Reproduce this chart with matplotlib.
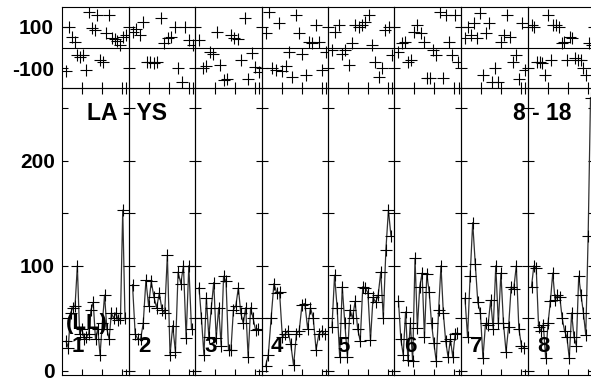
import numpy as np
import matplotlib
matplotlib.use("Agg")
import matplotlib.pyplot as plt

plt.rcParams['font.family'] = ['Liberation Sans', 'DejaVu Sans']
plt.rcParams['font.weight'] = 'bold'

# ---- data ----
panel_labels = ["1", "2", "3", "4", "5", "6", "7", "8"]

amp1 = [28, 22, 55, 60, 62, 100, 35, 40, 30, 32, 35, 58, 65, 30, 40, 15, 45, 72, 40, 30, 55, 50, 55, 48, 50, 153, 50]
amp2 = [82, 35, 30, 30, 45, 86, 62, 85, 70, 60, 74, 58, 55, 110, 15, 43, 18, 94, 83, 100, 31, 100, 40]
amp3 = [79, 50, 15, 69, 32, 60, 84, 31, 60, 24, 90, 85, 20, 20, 58, 62, 79, 55, 45, 60, 13, 60, 50, 39, 40]
amp4 = [4, 15, 50, 83, 74, 75, 32, 35, 38, 25, 5, 35, 38, 63, 64, 40, 60, 50, 20, 35, 38, 35]
amp5 = [42, 91, 60, 13, 80, 45, 13, 58, 50, 66, 40, 28, 80, 79, 74, 29, 70, 65, 72, 94, 50, 115, 153, 128]
amp6 = [66, 30, 15, 56, 10, 45, 9, 107, 41, 80, 93, 32, 92, 75, 45, 26, 9, 58, 100, 55, 28, 13, 30, 13, 35, 36]
amp7 = [69, 32, 90, 141, 102, 65, 55, 12, 45, 44, 67, 40, 100, 45, 93, 45, 18, 42, 80, 78, 100, 40, 24, 22]
amp8 = [80, 100, 98, 42, 38, 44, 12, 45, 66, 93, 67, 72, 70, 50, 38, 32, 12, 55, 32, 24, 90, 72, 55, 34, 128, 260]

ph1 = [-111, 100, 52, 28, -36, -44, -36, -108, 172, 92, 85, 156, -60, -70, 68, 155, 44, 40, 30, 12, 50, 60]
ph2 = [76, 90, 60, 124, -68, -70, -76, -70, 140, 20, 44, 50, 100, -100, -164, 100, 36, 12]
ph3 = [36, -100, -90, -20, -30, 76, -84, -156, -150, 60, 44, 40, -60, 140, -150, -28, -95, -120]
ph4 = [68, 172, -100, -110, 116, -115, -90, -20, -140, 156, 70, -30, -132, 28, 20, 108, 28, -110, -20]
ph5 = [-12, 76, 108, -30, -12, -84, 20, 108, 100, 108, 124, 156, 10, -68, -140, -100, 84, 100, -36]
ph6 = [-20, 20, 28, -68, -60, 76, 108, 70, 28, -148, -148, -12, -36, 172, -148, 156, 28, -36, 156, -68]
ph7 = [44, 100, 60, 116, 44, 164, -132, 70, 116, -164, -100, -164, 28, 60, 156, 50, -68, -36, -150, 116, -108]
ph8 = [108, 100, -68, -68, -76, -132, 156, -60, 108, 108, 100, 20, 28, -60, 52, 44, -52, -60, -60, -100, -132, 20, 12]

amps = [amp1, amp2, amp3, amp4, amp5, amp6, amp7, amp8]
phases = [ph1, ph2, ph3, ph4, ph5, ph6, ph7, ph8]

W, H = 591, 381
fig = plt.figure(figsize=(W / 100, H / 100), dpi=100)

x0 = 62.0
pw = 66.5
top_y0, top_y1 = 6.7, 88.3
bot_y0, bot_y1 = 88.3, 375.0

xmax = 33.25
xt = [10, 20, 30, 32.2]

def fr(px_left, px_top, px_w, px_h):
    return [px_left / W, 1 - (px_top + px_h) / H, px_w / W, px_h / H]

for i in range(8):
    left = x0 + i * pw
    # top (phase) panel
    at = fig.add_axes(fr(left, top_y0, pw, top_y1 - top_y0))
    ph = phases[i]
    xs = np.linspace(2, 32, len(ph))
    at.plot(xs, ph, linestyle='none', marker='+', ms=9, mew=0.8, color='black')
    at.axhline(0, color='black', lw=0.8)
    at.set_xlim(0, xmax)
    at.set_ylim(-196, 196)
    at.set_yticks([-100, 100])
    at.set_xticks(xt)
    at.tick_params(direction='in', length=4, width=0.8, top=False, right=True,
                   labelbottom=False, labelleft=(i == 0), labelsize=15, pad=6)
    if i == 0:
        at.set_yticklabels(["-100", "100"], fontweight='bold')
    for s in at.spines.values():
        s.set_linewidth(0.8)
    at.patch.set_alpha(0)

    # bottom (amplitude) panel
    ab = fig.add_axes(fr(left, bot_y0, pw, bot_y1 - bot_y0))
    a = amps[i]
    xs = np.linspace(2, 31.5, len(a))
    ab.plot(xs, a, color='#303030', lw=0.9, marker='+', ms=8, mew=0.8, mec='black')
    ab.set_xlim(0, xmax)
    ab.set_ylim(-4.1, 269)
    ab.set_yticks([0, 50, 100, 150, 200, 250])
    ab.set_xticks(xt)
    ab.tick_params(direction='in', length=4, width=0.8, top=True, right=True,
                   labelbottom=False, labelleft=(i == 0), labelsize=15, pad=5)
    if i == 0:
        ab.set_yticklabels(["0", "", "100", "", "200", ""], fontweight='bold')
    for s in ab.spines.values():
        s.set_linewidth(0.8)
    ab.patch.set_alpha(0)
    fig.text((left + 15.5) / W, 1 - 346 / H, panel_labels[i], fontsize=16,
             fontweight='bold', ha='center', va='center')

fig.text(127 / W, 1 - 113 / H, "LA - YS", fontsize=16.5, fontweight='bold', ha='center', va='center')
fig.text(542 / W, 1 - 113 / H, "8 - 18", fontsize=16.5, fontweight='bold', ha='center', va='center')
fig.text(86.5 / W, 1 - 324 / H, "(LL)", fontsize=16, fontweight='bold', ha='center', va='center')

fig.savefig("out.png", dpi=100)
